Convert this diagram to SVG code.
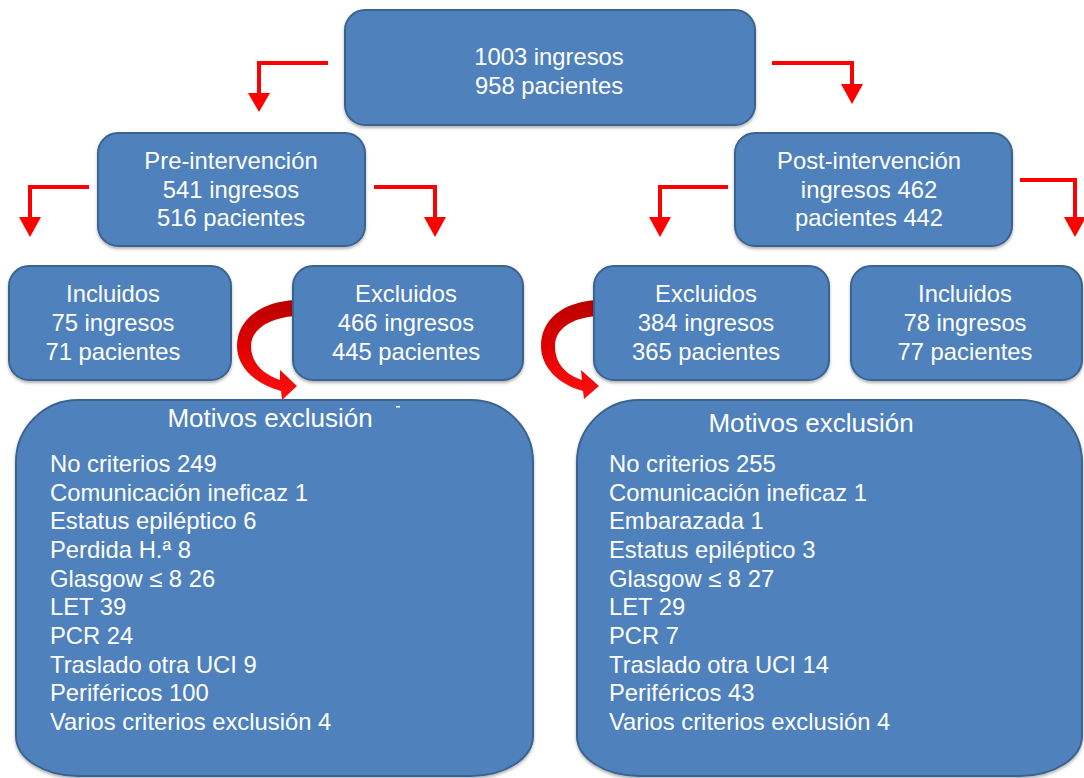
<svg xmlns="http://www.w3.org/2000/svg" width="1084" height="778" viewBox="0 0 1084 778">
<defs>
<linearGradient id="cg" x1="0" y1="0" x2="0" y2="1">
<stop offset="0" stop-color="#b80000"/>
<stop offset="0.45" stop-color="#e00000"/>
<stop offset="1" stop-color="#ff1010"/>
</linearGradient>
<filter id="sh" x="-5%" y="-5%" width="110%" height="115%">
<feDropShadow dx="0" dy="2" stdDeviation="1.5" flood-color="#000" flood-opacity="0.3"/>
</filter>
<style>
.box{fill:#4f81bd;stroke:#3b6390;stroke-width:2;filter:url(#sh)}
.t{font-family:"Liberation Sans",Arial,sans-serif;font-size:23.8px;fill:#fff}
.c{text-anchor:middle}
.h{font-size:26px}
.ln{fill:none;stroke:#ff0000;stroke-width:4}
.ah{fill:#ff0000}
</style>
</defs>
<g id="connectors">
<polyline class="ln" points="328,63 259,63 259,95"/>
<polygon class="ah" points="248,93 270,93 259,112"/>
<polyline class="ln" points="772,63 852,63 852,86"/>
<polygon class="ah" points="841,84 863,84 852,104"/>
<polyline class="ln" points="89,187 30,187 30,219"/>
<polygon class="ah" points="19,217 41,217 30,237"/>
<polyline class="ln" points="374,187 435,187 435,219"/>
<polygon class="ah" points="424,217 446,217 435,237"/>
<polyline class="ln" points="728,187 660,187 660,219"/>
<polygon class="ah" points="649,217 671,217 660,237"/>
<polyline class="ln" points="1020,180 1075,180 1075,219"/>
<polygon class="ah" points="1064,217 1086,217 1075,237"/>
<path fill="url(#cg)" d="M295,300 C260,302 237,320 237,346 C237,366 254,384 281,391 L282,400 L297,386 L280,370 L280,380 C262,374 251,362 251,346 C251,330 268,318 295,316 Z"/>
<path fill="url(#cg)" d="M597,300 C562,302 541,320 541,346 C541,366 557,384 583,391 L584,399 L599,386 L581,370 L582,380 C564,374 555,362 555,346 C555,330 570,318 597,316 Z"/>
</g>
<g id="n-total">
<rect class="box" x="345" y="10" width="410" height="115" rx="20"/>
<text class="t c" x="549" y="65">1003 ingresos</text>
<text class="t c" x="549" y="94">958 pacientes</text>
</g>
<g id="n-pre">
<rect class="box" x="98" y="133" width="267" height="113" rx="20"/>
<text class="t c" x="231" y="169">Pre-intervención</text>
<text class="t c" x="231" y="198">541 ingresos</text>
<text class="t c" x="231" y="226">516 pacientes</text>
</g>
<g id="n-post">
<rect class="box" x="735" y="133" width="277" height="113" rx="20"/>
<text class="t c" x="869" y="169">Post-intervención</text>
<text class="t c" x="869" y="198">ingresos 462</text>
<text class="t c" x="869" y="226">pacientes 442</text>
</g>
<g id="n-inc-pre">
<rect class="box" x="9" y="266" width="222" height="114" rx="20"/>
<text class="t c" x="113" y="302">Incluidos</text>
<text class="t c" x="113" y="331">75 ingresos</text>
<text class="t c" x="113" y="360">71 pacientes</text>
</g>
<g id="n-exc-pre">
<rect class="box" x="293" y="266" width="230" height="114" rx="20"/>
<text class="t c" x="406" y="302">Excluidos</text>
<text class="t c" x="406" y="331">466 ingresos</text>
<text class="t c" x="406" y="360">445 pacientes</text>
</g>
<g id="n-exc-post">
<rect class="box" x="594" y="266" width="235" height="114" rx="20"/>
<text class="t c" x="706" y="302">Excluidos</text>
<text class="t c" x="706" y="331">384 ingresos</text>
<text class="t c" x="706" y="360">365 pacientes</text>
</g>
<g id="n-inc-post">
<rect class="box" x="851" y="266" width="231" height="114" rx="20"/>
<text class="t c" x="965" y="302">Incluidos</text>
<text class="t c" x="965" y="331">78 ingresos</text>
<text class="t c" x="965" y="360">77 pacientes</text>
</g>
<g id="n-mot-pre">
<path class="box" d="M78,400 L471,400 A62,62 0 0 1 533,462 L533,736 A62,40 0 0 1 471,776 L78,776 A62,40 0 0 1 16,736 L16,462 A62,62 0 0 1 78,400 Z"/>
<text class="t c h" x="270" y="427">Motivos exclusión</text>
<rect x="396" y="406" width="4" height="1.5" fill="#fff"/>
<text class="t" x="50" y="472">No criterios 249</text>
<text class="t" x="50" y="500.7">Comunicación ineficaz 1</text>
<text class="t" x="50" y="529.4">Estatus epiléptico 6</text>
<text class="t" x="50" y="558">Perdida H.ª 8</text>
<text class="t" x="50" y="586.7">Glasgow ≤ 8 26</text>
<text class="t" x="50" y="615.4">LET 39</text>
<text class="t" x="50" y="644">PCR 24</text>
<text class="t" x="50" y="672.7">Traslado otra UCI 9</text>
<text class="t" x="50" y="701.4">Periféricos 100</text>
<text class="t" x="50" y="730">Varios criterios exclusión 4</text>
</g>
<g id="n-mot-post">
<path class="box" d="M639,400 L1020,400 A62,62 0 0 1 1082,462 L1082,736 A62,40 0 0 1 1020,776 L639,776 A62,40 0 0 1 577,736 L577,462 A62,62 0 0 1 639,400 Z"/>
<text class="t c h" x="811" y="432">Motivos exclusión</text>
<text class="t" x="609" y="472">No criterios 255</text>
<text class="t" x="609" y="500.7">Comunicación ineficaz 1</text>
<text class="t" x="609" y="529.4">Embarazada 1</text>
<text class="t" x="609" y="558">Estatus epiléptico 3</text>
<text class="t" x="609" y="586.7">Glasgow ≤ 8 27</text>
<text class="t" x="609" y="615.4">LET 29</text>
<text class="t" x="609" y="644">PCR 7</text>
<text class="t" x="609" y="672.7">Traslado otra UCI 14</text>
<text class="t" x="609" y="701.4">Periféricos 43</text>
<text class="t" x="609" y="730">Varios criterios exclusión 4</text>
</g>
</svg>
